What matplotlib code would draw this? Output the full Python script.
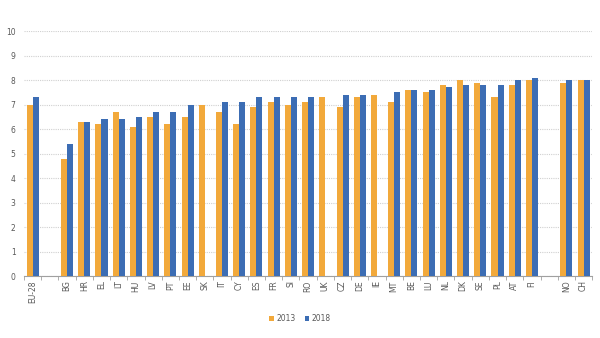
import matplotlib
matplotlib.use("Agg")
import matplotlib.pyplot as plt
import numpy as np

# categories ('' = empty slot used as spacer)
categories = ["EU-28", "", "BG", "HR", "EL", "LT", "HU", "LV", "PT", "EE", "SK", "IT", "CY",
              "ES", "FR", "SI", "RO", "UK", "CZ", "DE", "IE", "MT", "BE", "LU", "NL",
              "DK", "SE", "PL", "AT", "FI", "", "NO", "CH"]
v2013 = [7.0, None, 4.8, 6.3, 6.2, 6.7, 6.1, 6.5, 6.2, 6.5, 7.0, 6.7, 6.2,
         6.9, 7.1, 7.0, 7.1, 7.3, 6.9, 7.3, 7.4, 7.1, 7.6, 7.5, 7.8,
         8.0, 7.9, 7.3, 7.8, 8.0, None, 7.9, 8.0]
v2018 = [7.3, None, 5.4, 6.3, 6.4, 6.4, 6.5, 6.7, 6.7, 7.0, None, 7.1, 7.1,
         7.3, 7.3, 7.3, 7.3, None, 7.4, 7.4, None, 7.5, 7.6, 7.6, 7.7,
         7.8, 7.8, 7.8, 8.0, 8.1, None, 8.0, 8.0]

c2013 = "#F2A93B"
c2018 = "#3C6DB4"
grey = "#595959"

def clean(vals):
    return np.array([np.nan if v is None else v for v in vals], dtype=float)

x = np.arange(len(categories))
w = 0.35

fig = plt.figure(figsize=(6, 3.38), dpi=100)
ax = fig.add_axes([0.04, 0.183, 0.947, 0.725])

ax.bar(x - w / 2, clean(v2013), w, color=c2013, label="2013", zorder=3)
ax.bar(x + w / 2, clean(v2018), w, color=c2018, label="2018", zorder=3)

ax.set_xlim(-0.5, len(categories) - 0.5)
ax.set_ylim(0, 10)
ax.set_yticks(range(0, 11))
ax.grid(axis="y", linestyle=(0, (1, 1)), color="#D0D0D0", linewidth=0.8, zorder=0)

ax.set_xticks(x)
ax.set_xticklabels(categories, rotation=90, fontsize=5.5, color=grey)
ax.set_xticks(np.arange(-0.5, len(categories), 1), minor=True)
ax.tick_params(axis="x", which="major", length=0, pad=3)
ax.tick_params(axis="x", which="minor", length=3, color="#A0A0A0")
ax.tick_params(axis="y", length=0, labelsize=5.5, labelcolor=grey, pad=6)

for s in ["top", "right", "left"]:
    ax.spines[s].set_visible(False)
ax.spines["bottom"].set_color("#A0A0A0")

fig.legend(loc="center", bbox_to_anchor=(0.5, 0.058), ncol=2, frameon=False,
           fontsize=5.5, handlelength=0.6, handleheight=0.6, handletextpad=0.3,
           columnspacing=1.2, labelcolor=grey)

fig.savefig("out.png", dpi=100)
